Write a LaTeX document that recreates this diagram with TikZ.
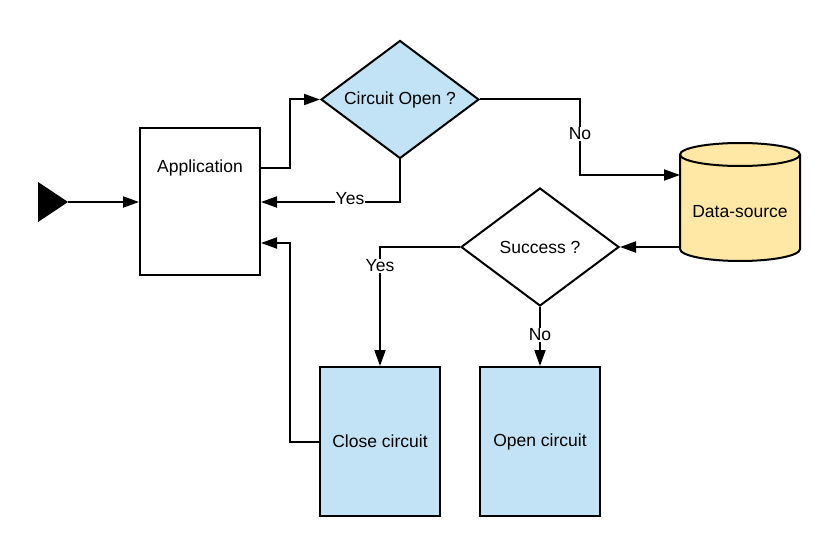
\documentclass[tikz,border=0pt]{standalone}
\usepackage{fontspec}
\setmainfont{Liberation Sans}
\usetikzlibrary{arrows.meta,shapes.geometric}
\definecolor{lblue}{HTML}{C2E3F5}
\definecolor{lyellow}{HTML}{FFE8A6}
\tikzset{
  txt/.style={font=\fontsize{17.5}{20}\selectfont, inner sep=1pt},
  box/.style={draw, line width=2pt, minimum width=120pt, minimum height=148pt, inner sep=0pt, font=\fontsize{17.5}{20}\selectfont},
  decision/.style={draw, diamond, aspect=1.333, line width=2pt, minimum width=158pt, minimum height=118pt, inner sep=0pt, font=\fontsize{17.5}{20}\selectfont},
  conn/.style={line width=2pt, -{Triangle[length=16pt,width=11pt]}},
  lbl/.style={fill=white, inner sep=1pt, font=\fontsize{17.5}{20}\selectfont}
}
\begin{document}
\begin{tikzpicture}[x=1pt,y=-1pt]
\useasboundingbox (0,0) rectangle (840,556);
% start marker
\fill (38,182) -- (68,202) -- (38,222) -- cycle;
\coordinate (start) at (68,202);
% nodes
\node[box, minimum height=147pt] (app) at (200,201.5) {};
\node[txt] (apptext) at (200,168) {Application};
\node[decision, fill=lblue] (co) at (400,99.5) {Circuit Open ?};
\node[decision, fill=white] (suc) at (540,247) {Success ?};
\node[box, fill=lblue, minimum height=149pt] (close) at (380,441.5) {Close circuit};
\node[box, fill=lblue, minimum height=149pt] (open) at (540,441.5) {Open circuit};
% cylinder
\filldraw[fill=lyellow, line width=2pt] (680,154.5) -- (680,249) arc[start angle=180, end angle=360, x radius=60, y radius=-12] -- (800,154.5) arc[start angle=0, end angle=180, x radius=60, y radius=-11.5] -- cycle;
\draw[line width=2pt] (680,154.5) arc[start angle=180, end angle=360, x radius=60, y radius=-11.5];
\node[txt] (ds) at (740,212) {Data-source};
\coordinate (dsin) at (680,175);
\coordinate (dsout) at (680,247);
% connectors
\draw[conn] (start) -- (app.west |- start);
\draw[conn] (app.east |- 0,168) -- (290,168) -- (290,99.5) -- (co.west);
\draw[conn] (co.south) -- (400,202) -- (app.east |- 0,202);
\node[lbl] (yes1) at (350,199) {Yes};
\draw[conn] (co.east) -- (580,99.5) -- (580,175) -- (dsin);
\node[lbl] (no1) at (580,134) {No};
\draw[conn] (dsout) -- (suc.east);
\draw[conn] (suc.west) -- (380,247) -- (close.north);
\node[lbl] (yes2) at (380,266) {Yes};
\draw[conn] (suc.south) -- (open.north);
\node[lbl] (no2) at (540,335) {No};
\draw[conn] (close.west) -- (290,441.5) -- (290,243) -- (app.east |- 0,243);
\end{tikzpicture}
\end{document}
